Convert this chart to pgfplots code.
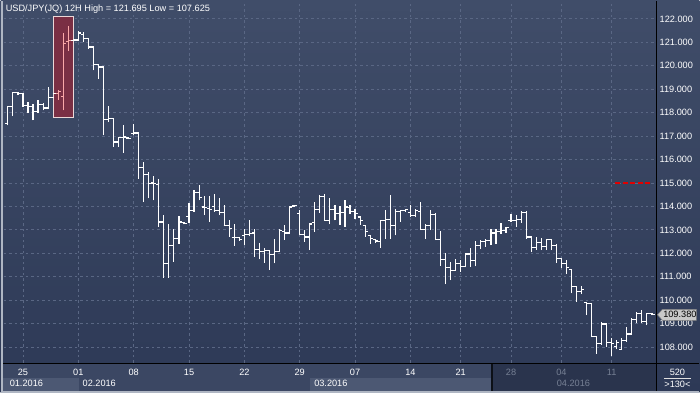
\documentclass[border=0pt]{standalone}
\usepackage{pgfplots}
\pgfplotsset{compat=1.18}
\usepackage{pgfplotstable}
\usepackage{fontspec}
\setmainfont{Liberation Sans}

\definecolor{bgtop}{RGB}{64,77,105}
\definecolor{bgbot}{RGB}{45,57,86}
\definecolor{gridc}{RGB}{90,103,132}
\definecolor{boxfill}{RGB}{122,47,68}
\definecolor{boxedge}{RGB}{235,215,215}
\definecolor{pinkbar}{RGB}{250,168,168}
\definecolor{strip}{RGB}{59,71,99}
\definecolor{striplight}{RGB}{76,88,115}
\definecolor{stripdark}{RGB}{42,52,77}
\definecolor{dimtext}{RGB}{118,128,148}
\definecolor{framec}{RGB}{175,182,195}
\definecolor{pricebox}{RGB}{200,200,200}

\pgfdeclareplotmark{otick}{\pgfpathmoveto{\pgfqpoint{-2.6pt}{0pt}}\pgfpathlineto{\pgfqpoint{0.5pt}{0pt}}\pgfusepathqstroke}
\pgfdeclareplotmark{ctick}{\pgfpathmoveto{\pgfqpoint{-0.5pt}{0pt}}\pgfpathlineto{\pgfqpoint{2.6pt}{0pt}}\pgfusepathqstroke}

\pgfplotstableread{
k o h l c
0 117.55 118.30 117.46 118.28
1 118.28 118.90 117.85 118.85
2 118.85 118.90 118.75 118.80
3 118.80 118.82 118.25 118.30
4 118.30 118.45 117.98 118.25
5 118.25 118.35 117.67 118.05
6 118.05 118.52 118.00 118.35
7 118.35 118.42 118.10 118.20
8 118.20 119.10 118.18 118.65
9 118.65 118.90 118.60 118.83
13 121.08 121.30 120.95 121.10
14 121.10 121.50 121.05 121.40
15 121.35 121.42 121.00 121.15
16 121.15 121.18 120.72 120.80
17 120.80 120.86 119.80 120.05
18 120.05 120.08 119.44 119.95
19 119.95 120.00 117.03 117.70
20 117.70 118.27 117.60 117.74
21 117.74 117.78 116.54 116.75
22 116.75 116.96 116.54 116.93
23 116.93 117.46 116.28 116.96
24 116.92 116.96 116.86 116.90
25 117.10 117.53 117.03 117.13
26 117.13 117.15 115.19 115.65
27 115.65 115.90 114.19 115.36
28 115.36 115.47 114.34 114.97
29 115.00 115.29 114.26 114.97
30 114.95 115.19 113.13 113.34
31 113.34 113.63 110.97 111.57
32 111.57 113.24 110.97 112.35
33 112.35 113.02 111.64 112.63
34 112.63 113.58 112.42 113.34
35 113.30 113.34 113.24 113.27
36 113.56 114.15 113.30 113.81
37 113.81 114.72 113.78 114.59
38 114.59 114.90 114.26 114.38
39 113.98 114.43 113.63 113.95
40 113.91 114.43 113.34 113.87
41 114.01 114.52 113.77 113.84
42 113.84 114.34 113.63 113.74
43 113.74 114.05 113.16 113.20
44 113.20 113.41 112.70 113.06
45 112.67 113.24 112.32 112.67
46 112.67 112.70 112.53 112.60
47 112.77 113.06 112.35 112.80
48 112.80 113.41 112.73 112.85
49 112.87 113.06 111.85 112.18
50 112.18 112.45 111.74 112.07
51 112.07 112.25 111.60 112.14
52 112.11 112.14 111.31 111.95
53 111.95 112.63 111.57 112.09
54 112.09 113.02 112.05 112.99
55 112.95 113.20 112.59 112.87
56 112.87 114.01 112.82 113.98
57 114.02 114.08 113.98 114.05
58 113.70 113.87 112.77 112.82
59 112.82 112.99 112.49 112.70
60 112.70 113.27 112.14 113.25
61 113.30 114.19 112.92 113.88
62 113.88 114.48 113.73 114.41
63 114.41 114.55 113.39 113.41
64 113.41 114.34 113.24 113.87
65 113.87 114.08 113.41 113.70
66 113.70 114.00 113.22 113.75
67 113.75 114.27 113.13 113.98
68 113.95 114.05 113.70 113.77
69 113.77 113.91 113.48 113.70
70 113.55 113.56 113.20 113.41
71 113.20 113.20 112.70 112.92
72 112.75 112.77 112.42 112.63
73 112.60 112.63 112.45 112.53
74 112.49 113.41 112.25 113.41
75 113.41 113.87 112.63 113.44
76 113.44 114.48 112.63 113.20
77 113.20 113.91 112.77 113.77
78 113.77 113.87 113.34 113.84
79 113.84 113.87 113.77 113.87
80 113.73 114.05 113.55 113.63
81 113.63 113.91 113.55 113.84
82 113.77 114.17 112.99 113.02
83 113.02 113.27 112.63 113.20
84 113.20 113.84 112.99 113.67
85 113.67 113.73 112.56 112.59
86 112.59 112.96 111.47 111.74
87 111.74 112.00 110.69 111.40
88 111.40 111.64 110.86 111.28
89 111.28 111.75 111.25 111.57
90 111.57 111.70 111.21 111.45
91 111.43 112.02 111.40 111.97
92 111.97 112.21 111.43 111.71
93 111.68 112.53 111.45 112.35
94 112.35 112.56 112.18 112.50
95 112.50 112.63 112.28 112.55
96 112.55 113.02 112.35 112.87
97 112.87 113.05 112.39 112.92
98 112.92 113.30 112.82 112.99
99 112.99 113.13 112.87 113.10
100 113.41 113.70 113.34 113.41
101 113.41 113.63 113.13 113.44
102 113.44 113.81 113.30 113.74
103 113.74 113.81 112.63 112.70
104 112.70 112.75 112.05 112.25
105 112.25 112.68 112.15 112.45
106 112.45 112.65 112.14 112.30
107 112.30 112.62 112.14 112.58
108 112.58 112.60 112.14 112.35
109 112.35 112.42 111.60 111.78
110 111.78 111.80 111.36 111.57
111 111.57 111.71 111.11 111.40
112 111.30 111.35 110.29 110.60
113 110.60 110.62 109.94 110.36
114 110.36 110.60 110.26 110.45
115 109.92 109.94 109.37 109.87
116 109.87 109.88 108.42 108.45
117 108.45 108.46 107.71 108.16
118 108.16 109.08 108.09 108.99
119 108.99 109.01 108.02 108.20
120 108.20 108.38 107.625 108.16
121 108.02 108.30 107.91 108.19
122 107.91 108.38 107.91 108.30
123 108.30 108.87 108.23 108.56
124 108.56 109.23 108.56 109.19
125 109.19 109.51 109.01 109.44
126 109.44 109.58 109.04 109.08
127 109.08 109.47 108.94 109.44
128 109.44 109.47 109.37 109.38
}\barsW

\pgfplotstableread{
k o h l c
10 118.83 118.98 118.55 118.92
11 118.70 121.40 118.10 120.96
12 121.05 121.695 120.62 121.08
}\barsP

\begin{document}
\begin{tikzpicture}
\begin{scope}[x=1pt,y=1pt]
\useasboundingbox (0,0) rectangle (700,393);
\shade[top color=bgtop, bottom color=bgbot] (0,0) rectangle (700,393);
% bottom date strip
\fill[strip] (0,2) rectangle (657,29);
\fill[striplight] (0,2) rectangle (78.5,15);
\fill[striplight] (310,2) rectangle (492,15);
\fill[stripdark] (492,2) rectangle (657,29);
\draw[black!70!stripdark, line width=1.5pt] (492,2) -- (492,29);
\end{scope}

\begin{axis}[
  at={(3pt,30pt)}, anchor=south west, scale only axis,
  width=654pt, height=360pt,
  xmin=-0.85, xmax=128.9,
  ymin=107.326, ymax=122.651,
  axis line style={draw=none},
  xtick={3,14,25,36,47,58,69,80,90,100,110,120},
  xticklabels={25,01,08,15,22,29,07,14,21,{\color{dimtext}28},{\color{dimtext}04},{\color{dimtext}11}},
  ytick={108,109,110,111,112,113,114,115,116,117,118,119,120,121,122},
  yticklabels={108.000,109.000,110.000,111.000,112.000,113.000,114.000,115.000,116.000,117.000,118.000,119.000,120.000,121.000,122.000},
  yticklabel pos=right,
  major tick length=0pt,
  grid=major,
  major grid style={draw=gridc, dash pattern=on 2.5pt off 3pt, line width=0.9pt},
  tick label style={font=\fontsize{9.2}{10}\selectfont, text=white},
  yticklabel style={anchor=west, inner sep=0pt, xshift=3pt},
  xticklabel style={anchor=base, inner sep=0pt, yshift=-12.3pt},
  clip=false,
]
% highlight box fill
\addplot[fill=boxfill, draw=none] coordinates {(9,117.785) (13,117.785) (13,122.098) (9,122.098)} -- cycle;
% red dashed level
\addplot[draw={rgb,255:red,225;green,0;blue,0}, line width=1.8pt, dash pattern=on 5pt off 2.5pt] coordinates {(120.7,115) (128.1,115)};
% white bars
\addplot[draw=none, mark=none, error bars/.cd, y dir=plus, y explicit, error mark=none,
  error bar style={draw=white, line width=1.15pt}]
  table[x=k, y=l, y error expr=\thisrow{h}-\thisrow{l}] {\barsW};
\addplot[only marks, mark=otick, draw=white, mark options={solid, draw=white, line width=1.15pt}] table[x=k, y=o] {\barsW};
\addplot[only marks, mark=ctick, draw=white, mark options={solid, draw=white, line width=1.15pt}] table[x=k, y=c] {\barsW};
% pink bars
\addplot[draw=none, mark=none, error bars/.cd, y dir=plus, y explicit, error mark=none,
  error bar style={draw=pinkbar, line width=1.15pt}]
  table[x=k, y=l, y error expr=\thisrow{h}-\thisrow{l}] {\barsP};
\addplot[only marks, mark=otick, draw=pinkbar, mark options={solid, draw=pinkbar, line width=1.15pt}] table[x=k, y=o] {\barsP};
\addplot[only marks, mark=ctick, draw=pinkbar, mark options={solid, draw=pinkbar, line width=1.15pt}] table[x=k, y=c] {\barsP};
% highlight box border
\addplot[draw=boxedge, line width=1pt, fill=none] coordinates {(9,117.785) (13,117.785) (13,122.098) (9,122.098)} -- cycle;
\end{axis}

\begin{scope}[x=1pt,y=1pt]
% frame lines
\draw[black, line width=1.2pt] (657,0) -- (657,393);
\draw[black, line width=1.2pt] (0,29.6) -- (700,29.6);
\fill[framec] (0,0) rectangle (2,393);
\fill[framec] (0,0) rectangle (700,1.6);

% title
\node[anchor=base west, inner sep=0pt, text=white, font=\fontsize{9.2}{10}\selectfont] at (5,381.8) {USD/JPY(JQ) 12H High = 121.695 Low = 107.625};

% month labels
\node[anchor=base west, inner sep=0pt, font=\fontsize{9.2}{10}\selectfont, text=white] at (9,6.4) {01.2016};
\node[anchor=base west, inner sep=0pt, font=\fontsize{9.2}{10}\selectfont, text=white] at (82,6.4) {02.2016};
\node[anchor=base west, inner sep=0pt, font=\fontsize{9.2}{10}\selectfont, text=white] at (314,6.4) {03.2016};
\node[anchor=base west, inner sep=0pt, font=\fontsize{9.2}{10}\selectfont, text=dimtext] at (557,6.4) {04.2016};

% right bottom panel
\node[anchor=base, inner sep=0pt, text=white, font=\fontsize{9.2}{10}\selectfont] at (678,17.7) {520};
\draw[white!75!gray, line width=0.6pt] (665,14.7) -- (692,14.7);
\node[anchor=base, inner sep=0pt, text=white, font=\fontsize{9.2}{10}\selectfont] at (678,5.8) {>130<};

% current price marker
\filldraw[fill=pricebox, draw=gray, line width=0.5pt] (658,78.3) -- (663,83.8) -- (697,83.8) -- (697,72.8) -- (663,72.8) -- cycle;
\node[anchor=west, inner sep=0pt, text=black, font=\fontsize{9.2}{10}\selectfont] at (663.6,78.3) {109.380};
\end{scope}
\end{tikzpicture}
\end{document}
